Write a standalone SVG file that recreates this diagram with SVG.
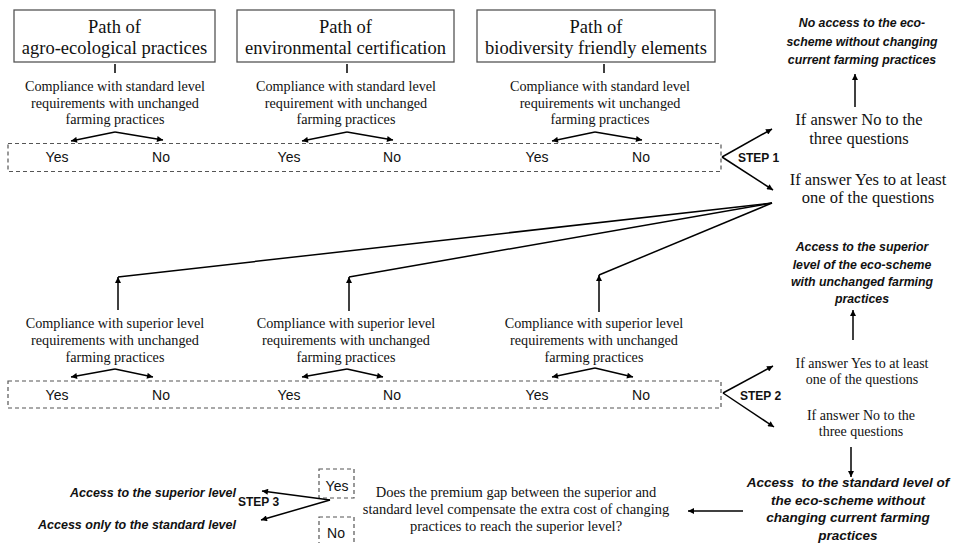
<svg xmlns="http://www.w3.org/2000/svg" width="954" height="543" viewBox="0 0 954 543">
<defs>
<style>
.bg{fill:#ffffff}
.box{fill:#ffffff;stroke:#555;stroke-width:1.3}
.dash{fill:none;stroke:#555;stroke-width:1.2;stroke-dasharray:4 3}
.ln{fill:none;stroke:#000;stroke-width:1.5}
.arr{fill:none;stroke:#000;stroke-width:1.5;marker-end:url(#ah)}
.title{font-family:"Liberation Serif","Times New Roman",serif;font-size:18.5px;fill:#111;text-anchor:middle}
.ser{font-family:"Liberation Serif","Times New Roman",serif;font-size:14.2px;fill:#111;text-anchor:middle}
.ser16{font-family:"Liberation Serif","Times New Roman",serif;font-size:16.5px;fill:#111;text-anchor:middle}
.ser14{font-family:"Liberation Serif","Times New Roman",serif;font-size:14px;fill:#111;text-anchor:middle}
.ser145{font-family:"Liberation Serif","Times New Roman",serif;font-size:14.5px;fill:#111;text-anchor:middle}
.yn{font-family:"Liberation Sans",Arial,sans-serif;font-size:14px;fill:#111;text-anchor:middle}
.step{font-family:"Liberation Sans",Arial,sans-serif;font-size:12px;font-weight:bold;fill:#111}
.bi{font-family:"Liberation Sans",Arial,sans-serif;font-size:12.3px;font-weight:bold;font-style:italic;fill:#111;text-anchor:middle}
.bi2{font-family:"Liberation Sans",Arial,sans-serif;font-size:13.5px;font-weight:bold;font-style:italic;fill:#111;text-anchor:middle}
.bi3{font-family:"Liberation Sans",Arial,sans-serif;font-size:12.5px;font-weight:bold;font-style:italic;fill:#111;text-anchor:end}
</style>
<marker id="ah" viewBox="0 0 10 10" refX="10" refY="5" markerWidth="7" markerHeight="6" markerUnits="userSpaceOnUse" orient="auto">
<path d="M0,0 L10,5 L0,10 z" fill="#000"/>
</marker>
</defs>
<rect class="bg" x="0" y="0" width="954" height="543"/>

<g id="path1">
<rect class="box" x="14" y="10" width="201" height="52"/>
<text class="title" x="114.5" y="33">Path of</text>
<text class="title" x="114.5" y="54">agro-ecological practices</text>
</g>
<g id="path2">
<rect class="box" x="237" y="10" width="217" height="52"/>
<text class="title" x="345.5" y="33">Path of</text>
<text class="title" x="345.5" y="54">environmental certification</text>
</g>
<g id="path3">
<rect class="box" x="477" y="10" width="238" height="52"/>
<text class="title" x="596" y="33">Path of</text>
<text class="title" x="596" y="54">biodiversity friendly elements</text>
</g>

<g id="std1">
<text class="ser" x="115" y="91">Compliance with standard level</text>
<text class="ser" x="115" y="107.5">requirements with unchanged</text>
<text class="ser" x="115" y="124">farming practices</text>
</g>
<g id="std2">
<text class="ser" x="346" y="91">Compliance with standard level</text>
<text class="ser" x="346" y="107.5">requirement with unchanged</text>
<text class="ser" x="346" y="124">farming practices</text>
</g>
<g id="std3">
<text class="ser" x="600" y="91">Compliance with standard level</text>
<text class="ser" x="600" y="107.5">requirements wit unchanged</text>
<text class="ser" x="600" y="124">farming practices</text>
</g>

<g id="step1box">
<rect class="dash" x="8" y="143.5" width="713" height="28"/>
<text class="yn" x="57" y="162">Yes</text>
<text class="yn" x="161" y="162">No</text>
<text class="yn" x="289" y="162">Yes</text>
<text class="yn" x="392" y="162">No</text>
<text class="yn" x="537" y="162">Yes</text>
<text class="yn" x="641" y="162">No</text>
<text class="step" x="738" y="162">STEP 1</text>
</g>

<g id="step1no">
<text class="bi" x="862" y="27">No access to the eco-</text>
<text class="bi" x="862" y="46">scheme without changing</text>
<text class="bi" x="862" y="64">current farming practices</text>
<text class="ser16" x="859" y="125">If answer No to the</text>
<text class="ser16" x="859" y="144">three questions</text>
</g>
<g id="step1yes">
<text class="ser16" x="868" y="185">If answer Yes to at least</text>
<text class="ser16" x="868" y="203">one of the questions</text>
</g>

<g id="sup1">
<text class="ser" x="115" y="328">Compliance with superior level</text>
<text class="ser" x="115" y="345">requirements with unchanged</text>
<text class="ser" x="115" y="362">farming practices</text>
</g>
<g id="sup2">
<text class="ser" x="346" y="328">Compliance with superior level</text>
<text class="ser" x="346" y="345">requirements with unchanged</text>
<text class="ser" x="346" y="362">farming practices</text>
</g>
<g id="sup3">
<text class="ser" x="594" y="328">Compliance with superior level</text>
<text class="ser" x="594" y="345">requirements with unchanged</text>
<text class="ser" x="594" y="362">farming practices</text>
</g>

<g id="step2box">
<rect class="dash" x="8" y="381" width="713" height="27"/>
<text class="yn" x="57" y="400">Yes</text>
<text class="yn" x="161" y="400">No</text>
<text class="yn" x="289" y="400">Yes</text>
<text class="yn" x="392" y="400">No</text>
<text class="yn" x="537" y="400">Yes</text>
<text class="yn" x="641" y="400">No</text>
<text class="step" x="740" y="400">STEP 2</text>
</g>

<g id="step2yes">
<text class="bi" x="862" y="251">Access to the superior</text>
<text class="bi" x="862" y="269">level of the eco-scheme</text>
<text class="bi" x="862" y="286">with unchanged farming</text>
<text class="bi" x="862" y="303">practices</text>
<text class="ser14" x="862" y="368">If answer Yes to at least</text>
<text class="ser14" x="862" y="384">one of the questions</text>
</g>
<g id="step2no">
<text class="ser14" x="861" y="420">If answer No to the</text>
<text class="ser14" x="861" y="436">three questions</text>
<text class="bi2" x="848" y="487" xml:space="preserve">Access  to the standard level of</text>
<text class="bi2" x="848" y="505">the eco-scheme without</text>
<text class="bi2" x="848" y="522">changing current farming</text>
<text class="bi2" x="848" y="540">practices</text>
</g>

<g id="question">
<text class="ser145" x="516" y="497">Does the premium gap between the superior and</text>
<text class="ser145" x="516" y="514">standard level compensate the extra cost of changing</text>
<text class="ser145" x="516" y="531">practices to reach the superior level?</text>
</g>
<g id="step3">
<rect class="dash" x="319" y="469" width="35" height="29"/>
<text class="yn" x="337" y="491">Yes</text>
<rect class="dash" x="319" y="517" width="35" height="32"/>
<text class="yn" x="336" y="538">No</text>
<text class="step" x="238" y="506">STEP 3</text>
<text class="bi3" x="236" y="497">Access to the superior level</text>
<text class="bi3" x="236" y="529">Access only to the standard level</text>
</g>

<g id="connectors">
<line class="ln" x1="115" y1="64" x2="115" y2="73"/>
<line class="ln" x1="347" y1="64" x2="347" y2="73"/>
<line class="ln" x1="604" y1="64" x2="604" y2="73"/>
<line class="arr" x1="115" y1="132" x2="71" y2="141"/>
<line class="arr" x1="115" y1="132" x2="163" y2="140"/>
<line class="arr" x1="347" y1="132" x2="302" y2="141"/>
<line class="arr" x1="347" y1="132" x2="393" y2="140"/>
<line class="arr" x1="595" y1="132" x2="552" y2="141"/>
<line class="arr" x1="595" y1="132" x2="642" y2="140"/>
<line class="arr" x1="722" y1="157" x2="772" y2="129"/>
<line class="arr" x1="722" y1="157" x2="773" y2="190"/>
<line class="arr" x1="855" y1="107" x2="855" y2="74"/>
<line class="ln" x1="772" y1="203" x2="118" y2="277"/>
<line class="ln" x1="772" y1="203" x2="349" y2="277"/>
<line class="ln" x1="772" y1="203" x2="599" y2="275"/>
<line class="arr" x1="118" y1="310" x2="118" y2="277"/>
<line class="arr" x1="349" y1="311" x2="349" y2="277"/>
<line class="arr" x1="599" y1="312" x2="599" y2="275"/>
<line class="arr" x1="115" y1="369" x2="71" y2="377"/>
<line class="arr" x1="115" y1="369" x2="153" y2="377"/>
<line class="arr" x1="347" y1="369" x2="302" y2="377"/>
<line class="arr" x1="347" y1="369" x2="383" y2="377"/>
<line class="arr" x1="595" y1="368" x2="552" y2="377"/>
<line class="arr" x1="595" y1="368" x2="633" y2="377"/>
<line class="arr" x1="723" y1="393" x2="773" y2="366"/>
<line class="arr" x1="723" y1="393" x2="774" y2="427"/>
<line class="arr" x1="853" y1="340" x2="853" y2="310"/>
<line class="arr" x1="851" y1="447" x2="851" y2="477"/>
<line class="arr" x1="743" y1="511" x2="688" y2="511"/>
<line class="arr" x1="330" y1="500" x2="262" y2="491"/>
<line class="arr" x1="330" y1="500" x2="261" y2="520"/>
</g>
</svg>
